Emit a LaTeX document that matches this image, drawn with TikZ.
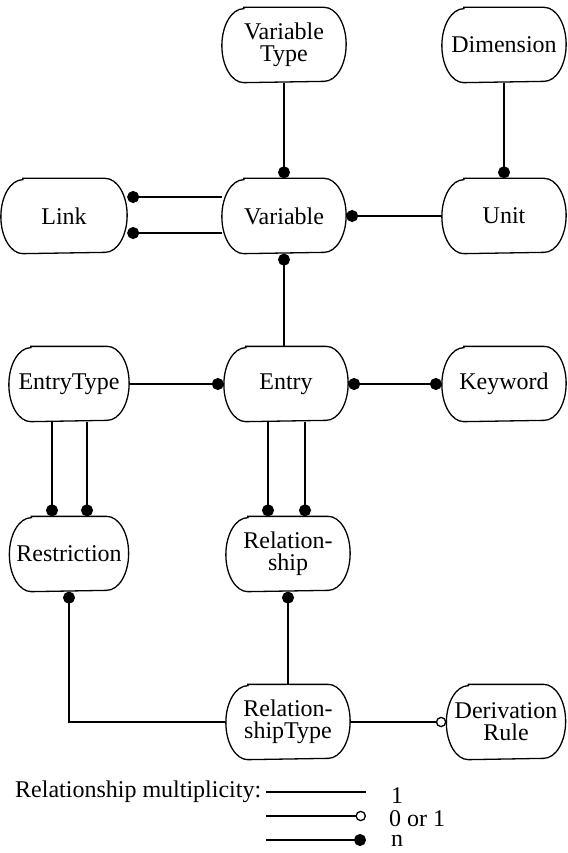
\documentclass[tikz,border=0pt]{standalone}
\usepackage{fontspec}
\setmainfont{Liberation Serif}
\usetikzlibrary{arrows.meta}
\tikzset{
  ndot/.tip={Circle[length=12pt]},
  odot/.tip={Circle[open,length=10.5pt,fill=white]},
}
\begin{document}
\begin{tikzpicture}[x=1pt,y=-1pt,
  ent/.style={line width=1.3pt, minimum width=123pt,
    minimum height=74pt, align=center, inner sep=0pt,
    font=\fontsize{24}{22}\selectfont},
  outline/.style={line width=1.3pt},
  conn/.style={line width=1.3pt},
  txt/.style={inner sep=0pt, font=\fontsize{24}{22}\selectfont},
]
\useasboundingbox (0,0) rectangle (567,853);
% nodes
\node[ent] (vt)    at (284,45)  {Variable\\Type};
\node[ent] (dim)   at (504,45)  {Dimension};
\node[ent, minimum width=125pt] (link)  at (64,216)  {Link};
\node[ent] (var)   at (284,216) {Variable};
\node[ent] (unit)  at (504,216) {Unit};
\node[ent, minimum width=119pt] (etype) at (69,384)  {EntryType};
\node[ent] (entry) at (286,384) {Entry};
\node[ent] (kw)    at (504,384) {Keyword};
\node[ent, minimum width=118pt] (restr) at (69,554)  {Restriction};
\node[ent] (rel)   at (288,554) {Relation-\\ship};
\node[ent] (rtype) at (288,722) {Relation-\\shipType};
\node[ent, minimum width=118pt] (drule) at (506,722) {Derivation\\Rule};
% outlines with elliptical ends
\foreach \n in {vt,dim,link,var,unit,etype,entry,kw,restr,rel,rtype,drule}{
  \draw[outline] ([xshift=22pt]\n.north west) -- ([xshift=-22pt]\n.north east)
    arc[start angle=90, end angle=-90, x radius=22pt, y radius=37pt]
    -- ([xshift=22pt]\n.south west)
    arc[start angle=270, end angle=90, x radius=22pt, y radius=37pt] -- cycle;
}
% connectors
\draw[conn,-ndot] (vt) -- (var);
\draw[conn,-ndot] (dim) -- (unit);
\draw[conn,ndot-] ([yshift=19pt]link.east) -- ([yshift=19pt]var.west);
\draw[conn,ndot-] ([yshift=-17pt]link.east) -- ([yshift=-17pt]var.west);
\draw[conn,ndot-] (var) -- (unit);
\draw[conn,ndot-] (var) -- (var |- entry.north);
\draw[conn,-ndot] (etype) -- (entry);
\draw[conn,ndot-ndot] (entry) -- (kw);
\draw[conn,-ndot] ([xshift=-17pt]etype.south) -- ([xshift=-17pt]etype.south |- restr.north);
\draw[conn,-ndot] ([xshift=18pt]etype.south) -- ([xshift=18pt]etype.south |- restr.north);
\draw[conn,-ndot] ([xshift=-18pt]entry.south) -- ([xshift=-18pt]entry.south |- rel.north);
\draw[conn,-ndot] ([xshift=19pt]entry.south) -- ([xshift=19pt]entry.south |- rel.north);
\draw[conn,ndot-] (restr.south) |- (rtype.west);
\draw[conn,ndot-] (rel) -- (rtype);
\draw[conn,-odot] (rtype) -- (drule);
% legend
\node[txt, anchor=west] (leg) at (15,792) {Relationship multiplicity:};
\coordinate (l1a) at (266,792);
\coordinate (l1b) at (366,792);
\coordinate (l2a) at (266,816);
\coordinate (l2b) at (366,816);
\coordinate (l3a) at (266,840);
\coordinate (l3b) at (366,840);
\draw[conn] (l1a) -- (l1b);
\draw[conn,-odot] (l2a) -- (l2b);
\draw[conn,-ndot] (l3a) -- (l3b);
\node[txt, anchor=west] (lab1) at (391,796) {1};
\node[txt, anchor=west] (lab2) at (389,819) {0 or 1};
\node[txt, anchor=west] (lab3) at (391,841) {n};
\end{tikzpicture}
\end{document}
